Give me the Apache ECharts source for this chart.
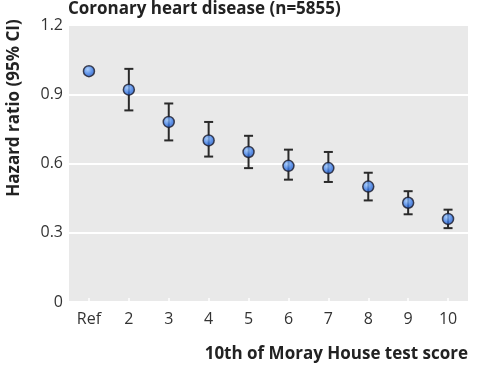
<!DOCTYPE html>
<html><head><meta charset="utf-8">
<script src="https://cdn.jsdelivr.net/npm/echarts@6/dist/echarts.min.js"></script>
<style>html,body{margin:0;padding:0;background:#fff}#c{width:483px;height:366px}</style>
</head><body><div id="c"></div>
<script>
const categories = ['Ref','2','3','4','5','6','7','8','9','10'];
const hazardRatio = [1.00, 0.92, 0.78, 0.70, 0.65, 0.59, 0.58, 0.50, 0.43, 0.36];
const ciLower = [null, 0.83, 0.70, 0.63, 0.58, 0.53, 0.52, 0.44, 0.38, 0.32];
const ciUpper = [null, 1.01, 0.86, 0.78, 0.72, 0.66, 0.65, 0.56, 0.48, 0.40];
const yTicks = [0, 0.3, 0.6, 0.9, 1.2];

const FONT = '"Open Sans", sans-serif';
const chart = echarts.init(document.getElementById('c'), null, {renderer:'canvas'});
const errData = categories.map((c,i)=> ciLower[i]==null ? null : [i, ciLower[i], ciUpper[i]]).filter(d=>d);
chart.setOption({
  animation:false,
  graphic:[
    {type:'text', x:68, y:9,
      style:{text:'Coronary heart disease (n=5855)', fontFamily:FONT, fontSize:17, fontWeight:'bold', fill:'#222', align:'left', verticalAlign:'middle'}},
    {type:'text', x:14, y:108, rotation:Math.PI/2,
      style:{text:'Hazard ratio (95% CI)', fontFamily:FONT, fontSize:17, fontWeight:'bold', fill:'#222', align:'center', verticalAlign:'middle'}},
    {type:'text', x:468, y:354,
      style:{text:'10th of Moray House test score', fontFamily:FONT, fontSize:17, fontWeight:'bold', fill:'#222', align:'right', verticalAlign:'middle'}}
  ],
  grid:{left:69, right:15, top:25, bottom:64, show:true, backgroundColor:'#e9e9e9', borderWidth:0,
    containLabel:false, outerBoundsMode:'none'},
  xAxis:{type:'category', data:categories, boundaryGap:true,
    axisLine:{show:false},
    axisTick:{show:true, inside:true, alignWithLabel:true, length:4, lineStyle:{color:'#fff', width:1.5}},
    axisLabel:{fontFamily:FONT, fontSize:16, color:'#333', margin:9},
    splitLine:{show:false}},
  yAxis:{type:'value', min:0, max:1.2, interval:0.3,
    axisLine:{show:false}, axisTick:{show:false},
    axisLabel:{fontFamily:FONT, fontSize:16, color:'#333', margin:6,
      formatter:v=>{const t=yTicks.find(x=>Math.abs(x-v)<1e-6); return t===0?'0':String(t);}},
    splitLine:{show:true, lineStyle:{color:'#fff', width:2}}},
  series:[
    {type:'custom', data:errData, z:2,
      renderItem:(params, api)=>{
        const x = api.value(0);
        const lo = api.coord([x, api.value(1)]);
        const hi = api.coord([x, api.value(2)]);
        const hw = 4.5;
        const st = {stroke:'#2a2a2a', lineWidth:2};
        return {type:'group', children:[
          {type:'line', shape:{x1:lo[0], y1:lo[1], x2:hi[0], y2:hi[1]}, style:st},
          {type:'line', shape:{x1:lo[0]-hw, y1:lo[1], x2:lo[0]+hw, y2:lo[1]}, style:st},
          {type:'line', shape:{x1:hi[0]-hw, y1:hi[1], x2:hi[0]+hw, y2:hi[1]}, style:st}
        ]};
      }},
    {type:'scatter', data:hazardRatio, symbol:'circle', symbolSize:11, z:3,
      itemStyle:{borderColor:'#1b1b2a', borderWidth:1.5,
        color:new echarts.graphic.RadialGradient(0.4,0.35,0.7,[{offset:0,color:'#9cc8ff'},{offset:0.55,color:'#3a7be8'},{offset:1,color:'#1f50b0'}])}}
  ]
});
</script></body></html>
